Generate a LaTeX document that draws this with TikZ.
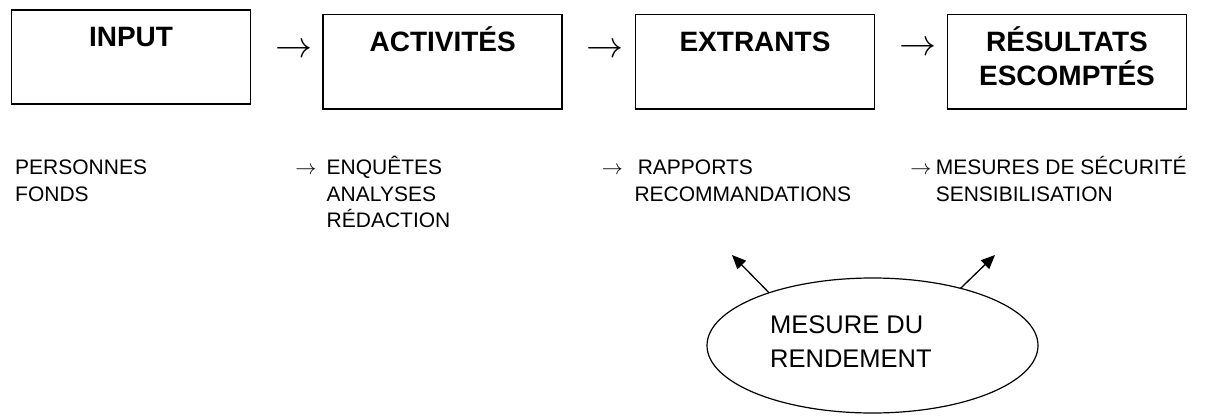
\RequirePackage{fix-cm}
\documentclass[tikz,border=0pt]{standalone}
\usepackage{fontspec}
\setmainfont{Liberation Sans}
\usetikzlibrary{shapes.geometric,arrows.meta}
\begin{document}
\begin{tikzpicture}[x=1pt,y=-1pt,
  box/.style={draw,line width=1.6pt,minimum width=239pt,minimum height=94.5pt,inner sep=0pt,outer sep=0pt},
  title/.style={font=\fontsize{28}{33.3}\selectfont\bfseries,inner sep=0pt,anchor=base,align=center},
  bigarrow/.style={font=\fontsize{37}{37}\selectfont,inner sep=0pt,anchor=base},
  smallarrow/.style={font=\fontsize{21}{26.7}\selectfont,inner sep=0pt,anchor=base},
  item/.style={font=\fontsize{21}{26.7}\selectfont,inner sep=0pt,anchor=base west,align=left},
  meas/.style={draw,ellipse,line width=1.2pt,minimum width=331pt,minimum height=135pt,inner sep=0pt,outer sep=0pt},
  ptr/.style={line width=1.3pt,-{Triangle[length=14pt,width=12pt]}}
]
\useasboundingbox (0,0) rectangle (1207,415);
% boxes
\node[box] (b1) at (130.8,57) {};
\node[box] (b2) at (442.7,61.7) {};
\node[box] (b3) at (755,61.7) {};
\node[box] (b4) at (1067,61.7) {};
% titles (base anchor = baseline of last line)
\node[title] (t1) at (131,46.7) {INPUT};
\node[title] (t2) at (442.7,51.7) {ACTIVITÉS};
\node[title] (t3) at (755,51.7) {EXTRANTS};
\node[title] (t4) at (1067,85) {RÉSULTATS\\ESCOMPTÉS};
% arrows between boxes
\node[bigarrow] (a1) at (293.5,57.3) {$\rightarrow$};
\node[bigarrow] (a2) at (605.3,57.3) {$\rightarrow$};
\node[bigarrow] (a3) at (917.5,55.9) {$\rightarrow$};
% lower lists
\node[item] (l1) at (15,201) {PERSONNES\\FONDS};
\node[smallarrow] (s1) at (305.8,174.3) {$\rightarrow$};
\node[item] (l2) at (326.5,227.7) {ENQUÊTES\\ANALYSES\\RÉDACTION};
\node[smallarrow] (s2) at (612.3,174.3) {$\rightarrow$};
\node[item] (l3) at (634.3,201) {\hspace{3.3pt}RAPPORTS\\RECOMMANDATIONS};
\node[smallarrow] (s3) at (920.8,174.3) {$\rightarrow$};
\node[item] (l4) at (935.6,201) {MESURES DE SÉCURITÉ\\SENSIBILISATION};
% performance measurement
\node[meas] (m) at (872.5,345.5) {};
\node[font=\fontsize{25.5}{34}\selectfont,inner sep=0pt,anchor=base west,align=left] (mt) at (770,367) {MESURE DU\\RENDEMENT};
\coordinate (tl) at (732,255);
\coordinate (tr) at (995,255);
\draw[ptr] (m.153.3) -- (tl);
\draw[ptr] (m.33.2) -- (tr);
\end{tikzpicture}
\end{document}
